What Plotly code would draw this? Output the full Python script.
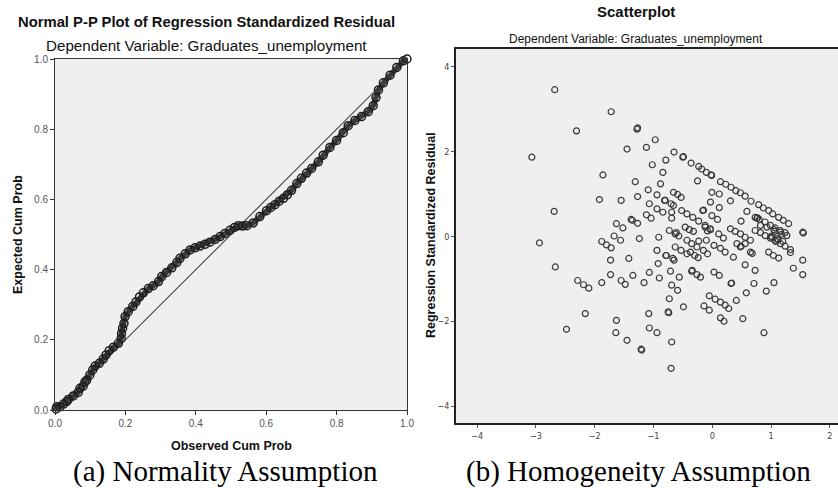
import plotly.graph_objects as go

# ---- (a) Normal P-P plot data ----
observed_cum_prob = [0.003, 0.005, 0.014, 0.024, 0.033, 0.038, 0.052, 0.066, 0.071, 0.080,
                     0.085, 0.090, 0.099, 0.107, 0.114, 0.126, 0.137, 0.145, 0.154, 0.166,
                     0.180, 0.188, 0.189, 0.192, 0.196, 0.199, 0.208, 0.221, 0.230, 0.240,
                     0.251, 0.265, 0.279, 0.294, 0.303, 0.317, 0.332, 0.346, 0.355, 0.370,
                     0.384, 0.398, 0.412, 0.426, 0.440, 0.455, 0.469, 0.483, 0.497, 0.510,
                     0.521, 0.533, 0.545, 0.563, 0.582, 0.601, 0.613, 0.625, 0.637, 0.649,
                     0.660, 0.672, 0.687, 0.700, 0.715, 0.729, 0.748, 0.762, 0.781, 0.800,
                     0.819, 0.833, 0.852, 0.871, 0.890, 0.904, 0.912, 0.919, 0.933, 0.952,
                     0.971, 0.990, 1.000]
expected_cum_prob = [0.003, 0.009, 0.009, 0.017, 0.024, 0.030, 0.040, 0.050, 0.062, 0.068,
                     0.080, 0.085, 0.100, 0.114, 0.125, 0.133, 0.145, 0.157, 0.169, 0.179,
                     0.190, 0.204, 0.218, 0.233, 0.247, 0.266, 0.280, 0.295, 0.308, 0.322,
                     0.334, 0.346, 0.354, 0.366, 0.380, 0.392, 0.405, 0.420, 0.432, 0.445,
                     0.456, 0.462, 0.467, 0.472, 0.478, 0.486, 0.494, 0.503, 0.512, 0.520,
                     0.525, 0.524, 0.525, 0.533, 0.551, 0.568, 0.577, 0.585, 0.595, 0.603,
                     0.613, 0.626, 0.645, 0.660, 0.675, 0.688, 0.707, 0.726, 0.748, 0.768,
                     0.790, 0.810, 0.825, 0.836, 0.850, 0.867, 0.890, 0.912, 0.932, 0.954,
                     0.976, 0.995, 1.000]
ref_line_x = [0.0, 1.0]
ref_line_y = [0.0, 1.0]
pp_ticks = [0.0, 0.2, 0.4, 0.6, 0.8, 1.0]
pp_ticklabels = ["0.0", "0.2", "0.4", "0.6", "0.8", "1.0"]

# ---- (b) Scatterplot data: (predicted, residual) ----
resid_points = [
    (-3.07, 1.87), (-2.94, -0.15), (-2.68, 3.46), (-2.69, 0.59), (-2.67, -0.72), (-2.31, 2.49),
    (-2.29, -1.04), (-2.19, -1.14), (-2.10, -1.22), (-2.16, -1.82), (-2.48, -2.19),
    (-1.88, -0.12), (-1.80, -0.20), (-1.72, -0.27), (-1.67, 0.01), (-1.56, -0.09), (-1.73, -0.56),
    (-1.42, -0.52), (-1.73, -0.90), (-1.88, -1.09), (-1.55, -1.04), (-1.48, -1.13), (-1.35, -0.92),
    (-1.16, -1.09), (-1.07, -0.85), (-0.90, -0.98), (-0.94, -0.33), (-0.92, -0.64), (-0.79, -0.45),
    (-1.24, -0.05), (-0.91, -0.02), (-1.08, -1.82), (-1.63, -1.98), (-1.07, -2.16), (-0.94, -2.27),
    (-1.64, -2.27), (-1.45, -2.45), (-1.20, -2.68), (-1.21, -2.66),
    (-1.72, 2.94), (-1.28, 2.53), (-1.27, 2.56), (-0.97, 2.28), (-1.45, 2.06), (-1.12, 2.10),
    (-0.79, 1.80), (-1.02, 1.69), (-0.84, 1.51), (-1.86, 1.45), (-0.88, 1.24), (-1.31, 1.29),
    (-1.92, 0.87), (-1.55, 0.85), (-1.27, 0.94), (-1.09, 1.10), (-0.94, 0.98), (-1.07, 0.77),
    (-0.81, 0.85), (-0.94, 0.65), (-0.84, 0.57), (-1.12, 0.51), (-1.04, 0.43), (-1.38, 0.40),
    (-1.36, 0.38), (-1.27, 0.31), (-1.63, 0.30), (-1.52, 0.20),
    (-0.65, 1.99), (-0.50, 1.87), (-0.49, 1.88), (-0.36, 1.73), (-0.23, 1.65), (-0.18, 1.59),
    (-0.10, 1.51), (-0.02, 1.45), (-0.01, 1.44), (-0.25, 1.31), (0.14, 1.29), (0.23, 1.23),
    (0.32, 1.16), (0.40, 1.08), (0.48, 1.03), (0.56, 0.95), (0.66, 0.83), (-0.006, 1.04),
    (0.12, 1.00), (-0.03, 0.81), (0.12, 0.68), (0.31, 0.84), (0.79, 0.75), (0.87, 0.67),
    (0.96, 0.61), (1.03, 0.53), (1.13, 0.45), (1.21, 0.38), (1.30, 0.30), (1.54, 0.10), (1.55, 0.08),
    (-0.66, 1.04), (-0.59, 0.99), (-0.53, 0.92), (-0.80, 0.85), (-0.70, 0.77), (-0.66, 0.73),
    (-0.69, 0.57), (-0.69, 0.43), (-0.52, 0.61), (-0.43, 0.53), (-0.33, 0.45), (-0.23, 0.36),
    (-0.12, 0.26), (-0.03, 0.18), (-0.16, 0.61), (-0.15, 0.62), (-0.005, 0.49), (0.09, 0.40),
    (0.59, 0.59), (0.49, 0.36), (0.73, 0.45), (0.80, 0.40), (0.90, 0.34), (0.99, 0.26),
    (1.07, 0.20), (1.16, 0.14), (1.24, 0.09), (0.76, 0.43), (0.77, 0.44),
    (-0.73, 0.14), (-0.61, 0.09), (-0.63, 0.06), (-0.57, 0.01), (-0.46, 0.22), (-0.39, 0.16),
    (-0.32, 0.12), (-0.12, 0.22), (-0.03, 0.16), (0.11, 0.06), (0.19, -0.04), (0.31, 0.18),
    (0.39, 0.12), (0.48, 0.06), (0.56, -0.02), (0.65, -0.09), (0.73, 0.14), (0.82, 0.09),
    (0.90, 0.02), (0.99, -0.04), (1.07, -0.09), (1.16, -0.17), (1.24, -0.23), (1.33, -0.31),
    (0.82, 0.26), (0.93, 0.22), (1.05, 0.16), (1.16, 0.10), (1.27, 0.02), (1.00, 0.00),
    (1.02, -0.02), (1.10, -0.06), (1.12, -0.08), (1.20, -0.12), (1.06, 0.12), (1.08, -0.12),
    (1.18, 0.05), (-0.08, 0.13), (-0.23, -0.11),
    (-0.78, -0.45), (-0.63, -0.25), (-0.53, -0.33), (-0.43, -0.41), (-0.43, -0.09), (-0.35, -0.17),
    (-0.26, -0.25), (-0.15, -0.33), (-0.08, -0.41), (-0.37, -0.37), (-0.30, -0.45), (-0.24, -0.50),
    (-0.67, -0.52), (-0.65, -0.56), (-0.71, -0.82), (-0.56, -0.96), (-0.69, -1.15), (-0.59, -1.27),
    (-0.73, -1.47), (-0.74, -1.80), (-0.75, -1.78), (-0.49, -1.66), (-0.69, -2.49), (-0.70, -3.11),
    (-0.35, -0.82), (-0.26, -0.90), (-0.20, -0.96), (-0.34, -0.80), (0.03, -0.84), (0.12, -0.92),
    (-0.10, -0.09), (0.03, -0.21), (0.14, -0.28), (0.22, -0.37), (0.36, -0.49), (0.42, -0.17),
    (0.49, -0.23), (0.48, -0.25), (0.56, -0.17), (0.56, -0.67), (0.73, -0.80), (0.65, -0.37),
    (0.68, -0.40), (0.96, -0.37), (1.04, -0.45), (1.13, -0.51), (1.33, -0.38), (1.38, -0.75),
    (1.54, -0.56), (1.54, -0.90), (0.32, -1.11), (0.33, -1.10), (0.71, -1.11), (1.05, -1.09),
    (0.92, -1.29), (0.58, -1.33), (0.41, -1.51), (-0.05, -1.40), (0.05, -1.48), (0.14, -1.55),
    (0.22, -1.62), (0.28, -1.70), (-0.14, -1.64), (-0.05, -1.74), (0.14, -1.92), (0.20, -2.00),
    (0.52, -1.94), (0.88, -2.27),
]
predicted = [p[0] for p in resid_points]
residual = [p[1] for p in resid_points]
sc_xticks = [-4, -3, -2, -1, 0, 1, 2]
sc_yticks = [-4, -2, 0, 2, 4]

W, H = 838, 488
def px(x):
    return x / W
def py(y):
    return 1 - y / H

SANS = "Liberation Sans, Arial, sans-serif"
NARROW = "DejaVu Sans Condensed, Liberation Sans, sans-serif"
SERIF = "Liberation Serif, Times New Roman, serif"

fig = go.Figure()
fig.add_trace(go.Scatter(x=ref_line_x, y=ref_line_y, mode="lines",
                         line=dict(color="#555555", width=1.2),
                         xaxis="x", yaxis="y", showlegend=False, hoverinfo="skip"))
# dense band of the P-P points (drawn through the same observed points)
fig.add_trace(go.Scatter(x=observed_cum_prob, y=expected_cum_prob, mode="lines",
                         line=dict(color="#3c3c3c", width=5.5),
                         xaxis="x", yaxis="y", showlegend=False, hoverinfo="skip",
                         cliponaxis=False))
fig.add_trace(go.Scatter(x=observed_cum_prob, y=expected_cum_prob, mode="markers",
                         marker=dict(symbol="circle-open", size=8, color="#1e1e1e",
                                     line=dict(width=1.5, color="#1e1e1e")),
                         xaxis="x", yaxis="y", showlegend=False, cliponaxis=False))
fig.add_trace(go.Scatter(x=predicted, y=residual, mode="markers",
                         marker=dict(symbol="circle-open", size=6, color="#3a3a3a",
                                     line=dict(width=1.2, color="#3a3a3a")),
                         xaxis="x2", yaxis="y2", showlegend=False))

axis_common = dict(showgrid=False, zeroline=False, showline=True, linecolor="#333333",
                   linewidth=1, ticks="outside", ticklen=4, tickcolor="#333333",
                   automargin=False)

fig.update_layout(
    width=W, height=H,
    margin=dict(l=0, r=0, t=0, b=0, pad=0),
    paper_bgcolor="white",
    plot_bgcolor="#efefef",
    showlegend=False,
    xaxis=dict(domain=[px(55), px(407)], range=[0, 1], tickvals=pp_ticks,
               ticktext=pp_ticklabels, mirror=True, anchor="y",
               tickfont=dict(family=SANS, size=10, color="#555555"), **axis_common),
    yaxis=dict(domain=[py(410), py(59)], range=[0, 1], tickvals=pp_ticks,
               ticktext=pp_ticklabels, mirror=True, anchor="x",
               tickfont=dict(family=SANS, size=10, color="#555555"), **axis_common),
    xaxis2=dict(domain=[px(456), 1.0], range=[-4.36, 2.14], tickvals=sc_xticks,
                mirror=True, anchor="y2", automargin=False,
                tickfont=dict(family=NARROW, size=9, color="#444444"),
                showgrid=False, zeroline=False, showline=True, linecolor="#222222",
                linewidth=1.5, ticks="outside", ticklen=3, tickcolor="#555555"),
    yaxis2=dict(domain=[py(423), py(49)], range=[-4.4, 4.42], tickvals=sc_yticks,
                anchor="x2", automargin=False,
                tickfont=dict(family=NARROW, size=9, color="#444444"),
                showgrid=False, zeroline=False, showline=True, linecolor="#222222",
                linewidth=1.5, ticks="outside", ticklen=3, tickcolor="#555555"),
)

def ann(text, x, y, size, family, color="#111111", bold=False, angle=0):
    t = f"<b>{text}</b>" if bold else text
    fig.add_annotation(text=t, x=px(x), y=py(y), xref="paper", yref="paper",
                       showarrow=False, xanchor="center", yanchor="middle",
                       textangle=angle, font=dict(size=size, family=family, color=color))

ann("Normal P-P Plot of Regression Standardized Residual", 206, 22, 14.8, SANS, bold=True)
ann("Dependent Variable: Graduates_unemployment", 206, 46, 15.2, SANS)
ann("Expected Cum Prob", 18, 235, 12.5, SANS, bold=True, angle=-90)
ann("Observed Cum Prob", 232, 446, 12.5, SANS, bold=True)
ann("(a) Normality Assumption", 225, 471, 29, SERIF, color="#000000")

ann("Scatterplot", 636, 11, 15, SANS, bold=True)
ann("Dependent Variable: Graduates_unemployment", 636, 39, 12, SANS)
ann("Regression Standardized Residual", 431, 235, 12.5, SANS, bold=True, angle=-90)
ann("(b) Homogeneity Assumption", 638, 471, 29, SERIF, color="#000000")

fig.write_html("out.html",
               config={"displayModeBar": False},
               post_script="document.body.style.margin='0px';"
                           "document.body.style.overflow='hidden';")
